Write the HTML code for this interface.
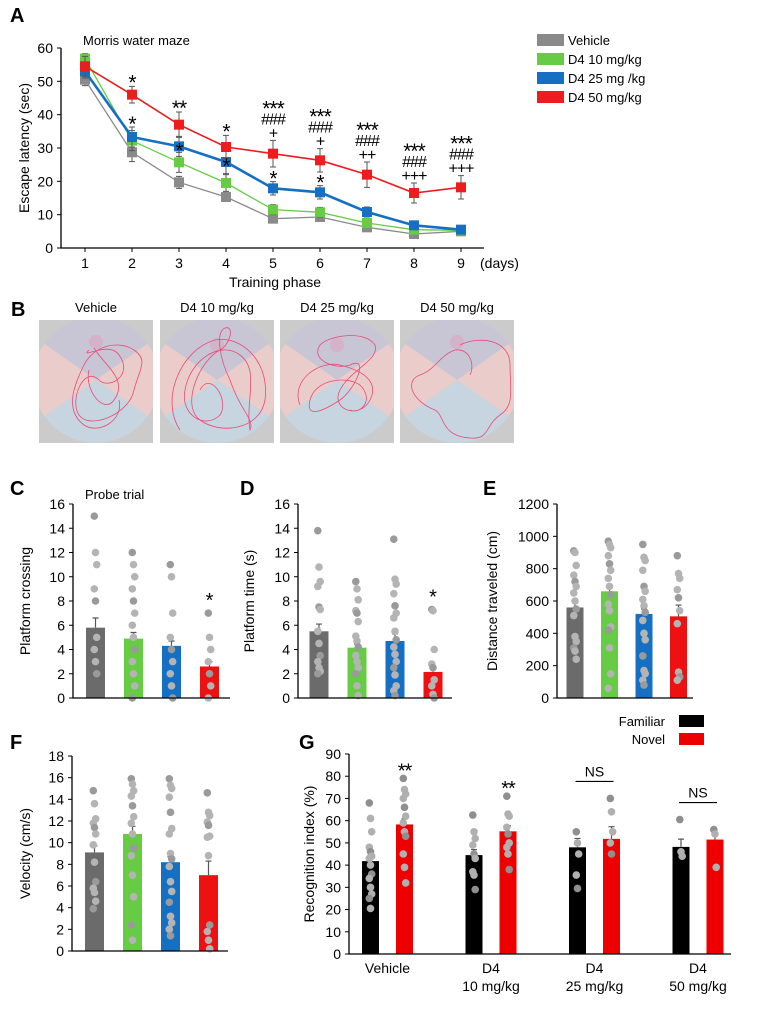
<!DOCTYPE html>
<html><head><meta charset="utf-8">
<style>
body{margin:0;background:#fff;}
svg{display:block;font-family:"Liberation Sans",Arial,sans-serif;}
</style></head>
<body>
<svg id="fig" width="757" height="1024" viewBox="0 0 757 1024">
  <text x="10" y="22" font-size="20" font-weight="bold">A</text>
  <text x="11" y="316" font-size="20" font-weight="bold">B</text>
  <text x="10" y="495" font-size="20" font-weight="bold">C</text>
  <text x="240" y="495" font-size="20" font-weight="bold">D</text>
  <text x="483" y="495" font-size="20" font-weight="bold">E</text>
  <text x="10" y="749" font-size="20" font-weight="bold">F</text>
  <text x="299" y="749" font-size="20" font-weight="bold">G</text>

  <text x="83" y="45" font-size="13">Morris water maze</text>
  <text x="85" y="499" font-size="13">Probe trial</text>

  <g>
    <rect x="537" y="34" width="27" height="12" fill="#8a8a8a"/>
    <text x="568" y="45" font-size="13">Vehicle</text>
    <rect x="537" y="53" width="27" height="12" fill="#66cc44"/>
    <text x="568" y="64" font-size="13">D4 10 mg/kg</text>
    <rect x="537" y="72" width="27" height="12" fill="#1570c4"/>
    <text x="568" y="83" font-size="13">D4 25 mg /kg</text>
    <rect x="537" y="91" width="27" height="12" fill="#ee1c1c"/>
    <text x="568" y="102" font-size="13">D4 50 mg/kg</text>
  </g>

  <g>
    <text x="665" y="726" font-size="13" text-anchor="end">Familiar</text>
    <rect x="679" y="715" width="25" height="12" fill="#000"/>
    <text x="665" y="744" font-size="13" text-anchor="end">Novel</text>
    <rect x="679" y="733" width="25" height="12" fill="#e00"/>
  </g>
</svg>
<script>
// ---------- Panel A data ----------
const days=[1,2,3,4,5,6,7,8,9];
const latencyTicks=[0,10,20,30,40,50,60];
const vehicleLatency=[50.5,28.7,19.7,15.3,8.8,9.3,6.2,4.2,5.0];
const vehicleErr=[1.8,2.8,1.8,1.2,1.0,1.0,0.8,0.6,0.6];
const d4_10Latency=[56.8,32.2,25.7,19.5,11.5,10.7,7.5,5.5,5.3];
const d4_10Err=[1.5,3,3,2.5,1.5,1.5,1,0.8,0.6];
const d4_25Latency=[53,33.3,30.5,25.8,17.9,16.7,10.8,6.8,5.5];
const d4_25Err=[2,3,3,3.5,2,2,1.5,1,0.6];
const d4_50Latency=[54.5,46,37,30.3,28.3,26.3,22,16.5,18.2];
const d4_50Err=[3,2.5,3.8,3.5,4,3.5,3.8,3,3.5];
const sig50vsVeh=["","*","**","*","***","***","***","***","***"];
const sig50vs10=["","","","","###","###","###","###","###"];
const sig50vs25=["","","","","+","+","++","+++","+++"];
const sig25vsVeh=["","*","*","*","*","*","","",""];

// ---------- Panel C-F data ----------
const groups=["Vehicle","D4 10 mg/kg","D4 25 mg/kg","D4 50 mg/kg"];
const crossingMean=[5.8,4.9,4.3,2.6];
const crossingErr=[0.8,0.5,0.4,0.4];
const crossingDots=[[15,12,11,9,8,5,4,3,2],[12,11,10,9,8,7,6,5,4,3,2,1,0],[11,10,7,5,4,3,2,1,0],[7,5,4,3,2,1,0]];
const crossingSig=["","","","*"];
const crossingTicks=[0,2,4,6,8,10,12,14,16];

const platTimeMean=[5.5,4.15,4.7,2.15];
const platTimeErr=[0.6,0.3,0.6,0.3];
const platTimeDots=[[13.8,10.8,9.6,9.2,7.5,7.3,5.5,4.5,3.5,3,2.5,2.2,2],[9.6,9,8.1,7.2,7,6.3,5.1,4.7,4.2,3.5,3,2.5,2,1,0.2],[13.1,9.8,9.4,8.6,7.6,7,6.6,5.5,4.8,4.2,3.6,3,2.5,1.9,1,0.6,0.2],[7.3,7.2,4,2.8,2.5,1.5,1,0.3,0]];
const platTimeSig=["","","","*"];
const platTimeTicks=[0,2,4,6,8,10,12,14,16];

const distMean=[560,660,520,505];
const distErr=[30,40,30,70];
const distDots=[[910,900,820,760,720,690,650,600,550,510,380,350,310,290,240],[970,950,930,880,830,790,740,690,640,580,540,440,420,310,150,60],[950,870,850,790,690,660,610,570,530,480,400,360,260,170,150,110,80],[880,770,740,670,620,540,460,160,130,110]];
const distSig=["","","",""];
const distTicks=[0,200,400,600,800,1000,1200];

const velMean=[9.1,10.8,8.2,7.0];
const velErr=[0.6,0.7,0.5,1.3];
const velDots=[[14.8,13.6,12.2,11.8,11.4,10.8,9.8,8.2,6.4,5.8,5.4,4.6,3.9],[15.9,15.4,14.8,14.3,13.4,12.4,11.8,10.8,9.5,8.8,7,5,2.4,1],[15.9,15.3,15,14.2,12.8,11.3,10.8,9,8.5,7.8,6.4,5.5,4.5,3.2,2.6,2,1.4],[14.6,12.8,12.5,11.9,11.6,10.6,10.5,8.8,2.4,1.8,1,0.2]];
const velSig=["","","",""];
const velTicks=[0,2,4,6,8,10,12,14,16,18];

// ---------- Panel G data ----------
const recogGroups=["Vehicle","D4\n10 mg/kg","D4\n25 mg/kg","D4\n50 mg/kg"];
const familiarMean=[41.8,44.5,48,48.2];
const familiarErr=[2,2.5,4,3.5];
const novelMean=[58.3,55.2,51.8,51.5];
const novelErr=[2.5,2.5,5.5,3];
const familiarDots=[[68,61,55,48,46,44,43,40,36,34,30,27,25,20.5],[62.5,55,52,49,45,43,37,35.5,29],[55,50,45,35.5,29.5],[60.5,46,44]];
const novelDots=[[79,74,72,70,66,62,59,55,53,45,39,32],[71,63,62,57,54,50,48,45,38],[70,64,55,50,45],[56,54,39]];
const recogSig=["**","**","NS","NS"];
const recogTicks=[0,10,20,30,40,50,60,70,80,90];

const NS='http://www.w3.org/2000/svg';
const svg=document.getElementById('fig');
function mk(tag,attrs,parent){const e=document.createElementNS(NS,tag);for(const k in attrs)e.setAttribute(k,attrs[k]);(parent||svg).appendChild(e);return e;}
function txt(s,x,y,attrs,parent){const e=mk('text',Object.assign({x:x,y:y},attrs||{}),parent);e.textContent=s;return e;}

// ================= Panel A =================
(function(){
  const g=mk('g',{});
  
  
  const X=d=>85+(d-1)*47;
  const Y=v=>248-v*200/60;
  let ax=mk('path',{d:`M61 ${Y(60)} V248 H484`,stroke:'#000','stroke-width':1.3,fill:'none'},g);
  
  
  latencyTicks.forEach(t=>{
    const tk=mk('line',{x1:57,x2:61,y1:Y(t),y2:Y(t),stroke:'#000'},g);
    
    
    const tl=txt(String(t),53,Y(t)+5,{'font-size':14,'text-anchor':'end'},g);
    
    
  });
  days.forEach(d=>{
    const tk=mk('line',{x1:X(d),x2:X(d),y1:248,y2:252,stroke:'#000'},g);
    
    
    const tl=txt(String(d),X(d),268,{'font-size':14,'text-anchor':'middle'},g);
    
    
  });
  let t=txt('(days)',480,268,{'font-size':14},g);
  
  
  t=txt('Training phase',275,287,{'font-size':14,'text-anchor':'middle'},g);
  
  
  t=txt('Escape latency (sec)',0,0,{'font-size':14,'text-anchor':'middle',transform:'translate(29,148) rotate(-90)'},g);
  
  

  const series=[
    {n:'vehicle',v:vehicleLatency,e:vehicleErr,c:'#8a8a8a',w:1.3},
    {n:'d4-10',v:d4_10Latency,e:d4_10Err,c:'#66cc44',w:1.3},
    {n:'d4-25',v:d4_25Latency,e:d4_25Err,c:'#1570c4',w:2.6},
    {n:'d4-50',v:d4_50Latency,e:d4_50Err,c:'#ee1c1c',w:1.6}
  ];
  series.forEach(s=>{
    const sg=mk('g',{},g);
    
    
    s.v.forEach((v,i)=>{
      const eb=mk('path',{d:`M${X(days[i])} ${Y(v-s.e[i])}V${Y(v+s.e[i])}M${X(days[i])-3} ${Y(v+s.e[i])}h6M${X(days[i])-3} ${Y(v-s.e[i])}h6`,stroke:'#555','stroke-width':1,fill:'none'},sg);
      
      
    });
    const ln=mk('polyline',{points:s.v.map((v,i)=>X(days[i])+','+Y(v)).join(' '),fill:'none',stroke:s.c,'stroke-width':s.w},sg);
    
    
    s.v.forEach((v,i)=>{
      const m=mk('rect',{x:X(days[i])-5,y:Y(v)-5,width:10,height:10,fill:s.c},sg);
      
      
    });
  });
  function mark(s,x,cy){
    if(!s) return;
    const star=s[0]==='*';
    const fs=star?21:16;
    const e=txt(s,x,cy+(star?fs*0.52:fs*0.37),{'font-size':fs,'text-anchor':'middle','letter-spacing':'-1'},g);
    
    
  }
  days.forEach((d,i)=>{
    let cy=Y(d4_50Latency[i]+d4_50Err[i])-8;
    [sig50vs25[i],sig50vs10[i],sig50vsVeh[i]].forEach(s=>{ if(s){mark(s,X(d),cy);cy-=14;} });
    if(sig25vsVeh[i]){
      const top=d4_25Latency[i]+d4_25Err[i];
      const cy2 = i>=2&&i<=3 ? Y(d4_25Latency[i]) : Y(top)-7;
      mark(sig25vsVeh[i],X(d),cy2);
    }
  });
})();

// ================= Panel B (maze traces, illustration) =================
(function(){
  const titles=["Vehicle","D4 10 mg/kg","D4 25 mg/kg","D4 50 mg/kg"];
  const xs=[39,160,280,400];
  const paths=[
    "M50 30 C40 40 70 20 80 35 C95 55 70 70 60 60 C45 45 30 80 40 95 C50 110 90 95 95 70 C100 50 110 40 95 30 C80 20 55 25 45 45 C35 65 25 90 45 105 C60 115 85 100 80 80 M55 28 C65 45 90 60 75 80 C65 95 45 70 50 50",
    "M20 110 C0 80 20 30 55 20 C80 15 110 40 105 80 C100 110 60 115 40 100 C20 85 40 40 60 30 C70 25 75 5 65 8 C55 12 60 40 70 60 C80 90 95 100 90 110 C85 80 100 50 80 35 C60 20 30 40 25 70 C20 95 45 110 60 95 C70 80 50 50 40 70",
    "M20 85 C10 60 40 40 60 45 C80 50 100 60 90 80 C80 100 50 90 60 70 C70 50 100 40 95 25 C85 10 50 15 40 25 C30 40 55 50 70 45 C90 35 75 70 60 80 C45 90 25 100 30 80 C35 60 65 55 80 65 C95 80 80 95 70 90",
    "M60 25 C80 15 110 20 110 45 C110 70 115 85 100 95 C85 105 90 120 70 118 C40 116 45 95 35 90 C10 80 5 60 20 55 C35 50 40 35 55 30 C70 28 75 45 70 55"
  ];
  function wedge(cx,cy,r,a0,a1){const p=a=>[cx+r*Math.cos(a*Math.PI/180),cy+r*Math.sin(a*Math.PI/180)];const s=p(a0),e=p(a1);return `M${cx} ${cy}L${s[0]} ${s[1]}A${r} ${r} 0 0 1 ${e[0]} ${e[1]}Z`;}
  const defs=mk('defs',{});
  titles.forEach((t,i)=>{
    const cp=mk('clipPath',{id:'mz'+i},defs);
    mk('rect',{x:0,y:0,width:114,height:123},cp);
    const g=mk('g',{transform:`translate(${xs[i]},320)`});
    
    
    const inner=mk('g',{'clip-path':`url(#mz${i})`},g);
    mk('rect',{x:0,y:0,width:114,height:123,fill:'#cbcbcb'},inner);
    mk('path',{d:wedge(57,60,63,-145,-35),fill:'#c8c5d4'},inner);
    mk('path',{d:wedge(57,60,63,-35,35),fill:'#eacdca'},inner);
    mk('path',{d:wedge(57,60,63,35,145),fill:'#c6d5df'},inner);
    mk('path',{d:wedge(57,60,63,145,215),fill:'#eacdca'},inner);
    mk('circle',{cx:57,cy:[22,25,25,22][i],r:7,fill:'#d7a9c6',opacity:0.7},inner);
    const tr=mk('path',{d:paths[i],fill:'none',stroke:'#ea4a78','stroke-width':0.8},inner);
    
    
    const tt=txt(t,xs[i]+57,312,{'font-size':13,'text-anchor':'middle'});
    
    
  });
})();

// ================= Bar panels C-F =================
const barColors=['#6b6b6b','#66cc44','#1570c4','#ee1111'];
function barPanel(name,ax,means,errs,dots,sig,ticks,title){
  const g=mk('g',{});
  
  
  const max=ticks[ticks.length-1];
  const Y=v=>ax.yBot-v/max*(ax.yBot-ax.yTop);
  const bx=i=>ax.first+i*ax.step;
  ticks.forEach(t=>{
    const tk=mk('line',{x1:ax.x0-4,x2:ax.x0,y1:Y(t),y2:Y(t),stroke:'#000'},g);
    
    
    const tl=txt(String(t),ax.x0-8,Y(t)+5,{'font-size':14,'text-anchor':'end'},g);
    
    
  });
  means.forEach((m,i)=>{
    const b=mk('rect',{x:bx(i)-ax.w/2,y:Y(m),width:ax.w,height:ax.yBot-Y(m),fill:barColors[i]},g);
    
    
    const eb=mk('path',{d:`M${bx(i)} ${Y(m)}V${Y(m+errs[i])}M${bx(i)-3} ${Y(m+errs[i])}h6`,stroke:'#555','stroke-width':1.2,fill:'none'},g);
    
    
  });
  dots.forEach((arr,i)=>{
    arr.forEach((v,j)=>{
      const d=mk('circle',{cx:bx(i)+((j%3)-1)*1.2,cy:Y(v),r:3.8,fill:j%4===0?'#9a9a9a':'#b4b4b4'},g);
      
      
    });
    if(sig[i]){
      const top=Math.max(...arr);
      const s=txt(sig[i],bx(i),Y(top)-6,{'font-size':20,'text-anchor':'middle'},g);
      
      
    }
  });
  const a=mk('path',{d:`M${ax.x0} ${ax.yTop}V${ax.yBot}H${ax.x1}`,stroke:'#000','stroke-width':1.3,fill:'none'},g);
  
  
  const yt=txt(title,0,0,{'font-size':14,'text-anchor':'middle',transform:`translate(${ax.tx},${(ax.yTop+ax.yBot)/2}) rotate(-90)`},g);
  
  
}
barPanel('chart-c-platform-crossing',{x0:73,x1:230,yTop:504,yBot:698,first:95.5,step:38,w:19,tx:30},crossingMean,crossingErr,crossingDots,crossingSig,crossingTicks,'Platform crossing');
barPanel('chart-d-platform-time',{x0:298,x1:452,yTop:504,yBot:698,first:319,step:38,w:19,tx:254},platTimeMean,platTimeErr,platTimeDots,platTimeSig,platTimeTicks,'Platform time (s)');
barPanel('chart-e-distance',{x0:557,x1:693,yTop:504,yBot:698,first:575,step:34.5,w:17,tx:497},distMean,distErr,distDots,distSig,distTicks,'Distance traveled (cm)');
barPanel('chart-f-velocity',{x0:72,x1:228,yTop:756,yBot:951,first:94.5,step:38,w:19,tx:30},velMean,velErr,velDots,velSig,velTicks,'Velocity (cm/s)');

// ================= Panel G =================
(function(){
  const g=mk('g',{});
  
  
  const x0=349,x1=731,yTop=754,yBot=954,max=90;
  const Y=v=>yBot-v/max*(yBot-yTop);
  const fx=i=>370.5+i*103.5, nx=i=>404.5+i*103.5, w=17;
  recogTicks.forEach(t=>{
    const tk=mk('line',{x1:x0-4,x2:x0,y1:Y(t),y2:Y(t),stroke:'#000'},g);
    
    
    const tl=txt(String(t),x0-8,Y(t)+5,{'font-size':14,'text-anchor':'end'},g);
    
    
  });
  function bars(means,errs,dots,xf,color,nm){
    means.forEach((m,i)=>{
      const b=mk('rect',{x:xf(i)-w/2,y:Y(m),width:w,height:yBot-Y(m),fill:color},g);
      
      
      const eb=mk('path',{d:`M${xf(i)} ${Y(m)}V${Y(m+errs[i])}M${xf(i)-3} ${Y(m+errs[i])}h6`,stroke:'#555','stroke-width':1.2,fill:'none'},g);
      
      
      dots[i].forEach((v,j)=>{
        const d=mk('circle',{cx:xf(i)+((j%3)-1)*1.2,cy:Y(v),r:3.8,fill:j%4===0?'#8f8f8f':'#b0b0b0'},g);
        
        
      });
    });
  }
  bars(familiarMean,familiarErr,familiarDots,fx,'#000','familiar');
  bars(novelMean,novelErr,novelDots,nx,'#e00','novel');
  recogSig.forEach((s,i)=>{
    const top=Math.max(...novelDots[i],...familiarDots[i]);
    if(s==='NS'){
      const ly=Y(top)-17;
      const ln=mk('line',{x1:fx(i)-2,x2:nx(i)+2,y1:ly,y2:ly,stroke:'#000','stroke-width':1.2},g);
      
      
      const t=txt('NS',(fx(i)+nx(i))/2,ly-5,{'font-size':14,'text-anchor':'middle'},g);
      
      
    } else {
      const t=txt(s,nx(i),Y(Math.max(...novelDots[i]))-1,{'font-size':20,'text-anchor':'middle','letter-spacing':'-1'},g);
      
      
    }
  });
  recogGroups.forEach((lab,i)=>{
    const parts=lab.split('\n');
    parts.forEach((p,k)=>{
      const t=txt(p,(fx(i)+nx(i))/2,973+k*18,{'font-size':14,'text-anchor':'middle'},g);
      
      
    });
  });
  const a=mk('path',{d:`M${x0} ${yTop}V${yBot}H${x1}`,stroke:'#000','stroke-width':1.3,fill:'none'},g);
  
  
  const yt=txt('Recognition index (%)',0,0,{'font-size':14,'text-anchor':'middle',transform:`translate(314,854) rotate(-90)`},g);
  
  
})();
</script>
</body></html>
